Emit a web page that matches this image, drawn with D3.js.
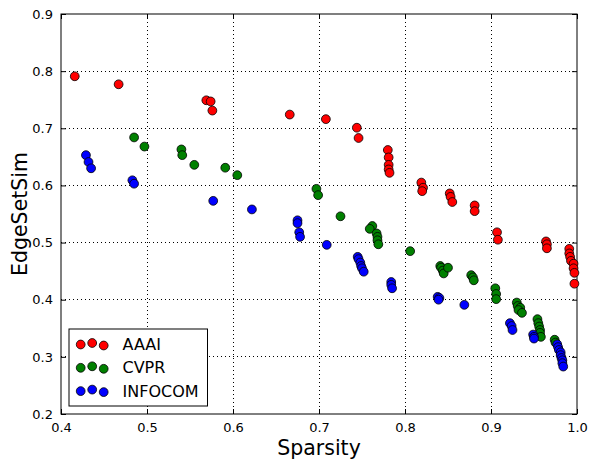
<!DOCTYPE html>
<meta charset="utf-8">
<style>
  body { margin: 0; background: #fff; }
  text { font-family: "DejaVu Sans", sans-serif; fill: #000; }
  .grid line { stroke: #000; stroke-width: 1; stroke-dasharray: 1,3; shape-rendering: crispEdges; }
  .dot { stroke: #000; stroke-width: 0.8; }
</style>
<body>
<script src="https://d3js.org/d3.v7.min.js"></script>
<script>

// series values [sparsity, edgeSetSim]
var aaai = [[0.416,0.791],[0.467,0.777],[0.569,0.749],[0.574,0.747],[0.576,0.731],[0.666,0.724],
  [0.708,0.716],[0.744,0.701],[0.746,0.683],[0.780,0.662],[0.781,0.649],[0.781,0.636],[0.781,0.628],
  [0.782,0.622],[0.819,0.605],[0.821,0.596],[0.820,0.590],[0.852,0.586],[0.853,0.580],[0.855,0.571],
  [0.881,0.565],[0.881,0.555],[0.907,0.518],[0.908,0.505],[0.964,0.502],[0.965,0.497],[0.965,0.490],
  [0.991,0.489],[0.991,0.481],[0.992,0.475],[0.993,0.468],[0.996,0.463],[0.996,0.455],[0.997,0.447],
  [0.997,0.428]];
var cvpr = [[0.485,0.684],[0.497,0.668],[0.540,0.663],[0.541,0.653],[0.555,0.636],[0.591,0.631],
  [0.605,0.618],[0.697,0.594],[0.699,0.583],[0.725,0.546],[0.762,0.529],[0.759,0.524],[0.767,0.516],
  [0.768,0.510],[0.768,0.504],[0.769,0.497],[0.806,0.485],[0.841,0.459],[0.842,0.456],[0.844,0.451],
  [0.845,0.446],[0.850,0.456],[0.877,0.443],[0.879,0.439],[0.880,0.434],[0.905,0.420],[0.906,0.410],
  [0.906,0.401],[0.930,0.395],[0.931,0.389],[0.934,0.386],[0.932,0.382],[0.936,0.377],[0.954,0.366],
  [0.955,0.359],[0.956,0.353],[0.957,0.347],[0.957,0.342],[0.958,0.335],[0.974,0.330],[0.975,0.325]];
var infocom = [[0.429,0.653],[0.432,0.641],[0.435,0.630],[0.483,0.609],[0.485,0.603],[0.577,0.573],
  [0.622,0.558],[0.675,0.539],[0.675,0.534],[0.677,0.518],[0.678,0.510],[0.709,0.496],[0.745,0.475],
  [0.746,0.471],[0.748,0.465],[0.749,0.459],[0.750,0.455],[0.752,0.449],[0.784,0.431],[0.784,0.426],
  [0.785,0.420],[0.838,0.405],[0.840,0.403],[0.839,0.400],[0.869,0.391],[0.922,0.359],[0.924,0.354],
  [0.925,0.347],[0.949,0.339],[0.950,0.335],[0.950,0.332],[0.977,0.322],[0.978,0.317],[0.979,0.312],
  [0.981,0.308],[0.981,0.303],[0.982,0.298],[0.983,0.294],[0.983,0.289],[0.984,0.283]];

var seriesNames = ["AAAI", "CVPR", "INFOCOM"];
var seriesColors = ["#ff0000", "#008000", "#0000ff"];
var xTicks = [0.4, 0.5, 0.6, 0.7, 0.8, 0.9, 1.0];
var yTicks = [0.2, 0.3, 0.4, 0.5, 0.6, 0.7, 0.8, 0.9];

var margin = {top: 14, right: 13, bottom: 47, left: 61},
    width = 590 - margin.left - margin.right,
    height = 461 - margin.top - margin.bottom;

var x = d3.scaleLinear().domain([0.4, 1.0]).range([0, width]);
var y = d3.scaleLinear().domain([0.2, 0.9]).range([height, 0]);

var svg = d3.select("body").append("svg")
    .attr("width", 590)
    .attr("height", 461)
  .append("g")
    .attr("transform", "translate(" + margin.left + "," + margin.top + ")");

// dotted grid
var grid = svg.append("g").attr("class", "grid");
grid.selectAll(".gx").data(xTicks.slice(1, -1)).enter().append("line")
    .attr("x1", d => x(d)).attr("x2", d => x(d))
    .attr("y1", 0).attr("y2", height);
grid.selectAll(".gy").data(yTicks.slice(1, -1)).enter().append("line")
    .attr("y1", d => y(d)).attr("y2", d => y(d))
    .attr("x1", 0).attr("x2", width);

// axes with inward ticks on all sides
function styleAxis(g) {
  g.select(".domain").remove();
  g.selectAll(".tick line").attr("stroke", "#000");
  g.selectAll(".tick text").style("font-family", "DejaVu Sans").style("font-size", "13px");
}
svg.append("g")
    .attr("transform", "translate(0," + height + ")")
    .call(d3.axisBottom(x).tickValues(xTicks).tickFormat(d3.format(".1f")).tickSizeInner(-5).tickPadding(9))
    .call(styleAxis);
svg.append("g")
    .call(d3.axisTop(x).tickValues(xTicks).tickFormat("").tickSizeInner(-5))
    .call(styleAxis);
svg.append("g")
    .call(d3.axisLeft(y).tickValues(yTicks).tickFormat(d3.format(".1f")).tickSizeInner(-5).tickPadding(8))
    .call(styleAxis);
svg.append("g")
    .attr("transform", "translate(" + width + ",0)")
    .call(d3.axisRight(y).tickValues(yTicks).tickFormat("").tickSizeInner(-5))
    .call(styleAxis);

svg.append("rect")
    .attr("width", width).attr("height", height)
    .attr("fill", "none").attr("stroke", "#000").attr("stroke-width", 1);

// points
[aaai, cvpr, infocom].forEach(function(data, i) {
  svg.append("g").selectAll("circle").data(data).enter().append("circle")
      .attr("class", "dot")
      .attr("cx", d => x(d[0]))
      .attr("cy", d => y(d[1]))
      .attr("r", 4.4)
      .attr("fill", seriesColors[i]);
});

// axis labels
svg.append("text")
    .attr("x", width / 2).attr("y", height + 41)
    .attr("text-anchor", "middle")
    .style("font-size", "20.5px")
    .text("Sparsity");
svg.append("text")
    .attr("transform", "rotate(-90)")
    .attr("x", -height / 2).attr("y", -34)
    .attr("text-anchor", "middle")
    .style("font-size", "20.5px")
    .text("EdgeSetSim");

// legend
var legend = svg.append("g").attr("transform", "translate(8,315)");
legend.append("rect")
    .attr("width", 138.5).attr("height", 77)
    .attr("fill", "#fff").attr("stroke", "#000").attr("stroke-width", 1);
var offsets = [0.5, -1, 1.5];
seriesNames.forEach(function(name, i) {
  var row = legend.append("g").attr("transform", "translate(0," + (15 + i * 23.3) + ")");
  row.selectAll("circle").data(offsets).enter().append("circle")
      .attr("class", "dot")
      .attr("cx", (d, j) => 11.7 + j * 11.5)
      .attr("cy", d => d)
      .attr("r", 4.4)
      .attr("fill", seriesColors[i]);
  row.append("text")
      .attr("x", 53.5).attr("y", 6)
      .style("font-size", "16px")
      .text(name);
});

</script>
</body>
